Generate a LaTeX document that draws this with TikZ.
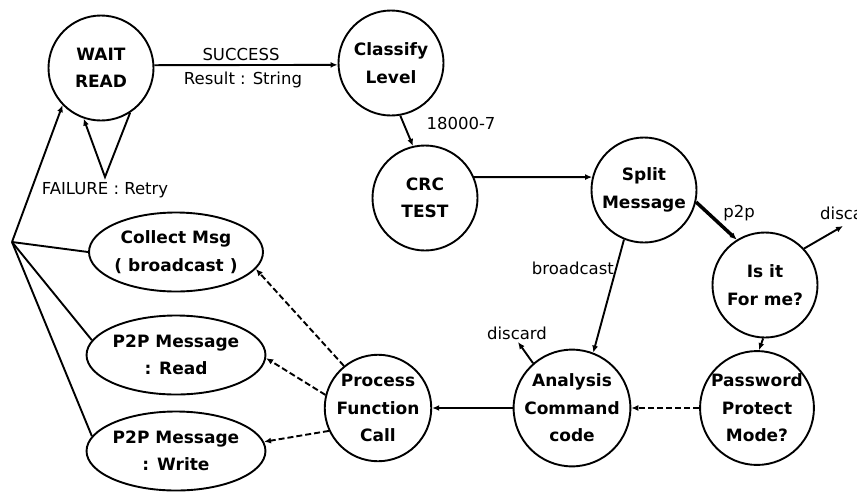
\documentclass[tikz,border=0pt]{standalone}
\usepackage{fontspec}
\setmainfont{DejaVu Sans}
\usetikzlibrary{shapes.geometric,arrows.meta}
\tikzset{
  state/.style={circle,draw,line width=1.9pt,minimum size=105pt,inner sep=0pt,align=center,
    font=\bfseries\fontsize{17}{27.5}\selectfont},
  oval/.style={ellipse,draw,line width=1.9pt,minimum width=156pt,minimum height=79pt,inner sep=0pt,align=center,
    font=\bfseries\fontsize{17}{27.5}\selectfont},
  lbl/.style={font=\fontsize{16.5}{18}\selectfont,inner sep=1pt},
  conn/.style={line width=1.9pt,-{Latex[length=7pt,width=6pt]}},
  dconn/.style={line width=1.9pt,dash pattern=on 6pt off 3pt,-{Latex[length=7pt,width=6pt]}},
  plain/.style={line width=1.9pt}
}
\begin{document}
\begin{tikzpicture}[x=1pt,y=-1pt]
\useasboundingbox (0,0) rectangle (857,491);
% states
\node[state] (wait) at (101,68) {WAIT\\READ};
\node[state] (class) at (391,63) {Classify\\Level};
\node[state] (crc) at (425,198) {CRC\\TEST};
\node[state] (split) at (644,190) {Split\\Message};
\node[state] (isit) at (765,285) {Is it\\For me?};
\node[state] (pw) at (757,408) {Password\\Protect\\Mode?};
\node[state] (ana) at (572,408) {Analysis\\Command\\code};
\node[state] (proc) at (378,408) {Process\\Function\\Call};
\node[oval] (coll) at (176,252) {Collect Msg\\( broadcast )};
\node[oval] (p2pr) at (176,355) {P2P Message\\: Read};
\node[oval] (p2pw) at (176,451) {P2P Message\\: Write};
% free ends
\coordinate (hub) at (12,242);
\coordinate (apex) at (105,177);
\coordinate (disc1) at (843,226);
\coordinate (disc2) at (518,342);
% connectors
\draw[conn] (wait.3) -- (class.182);
\node[lbl] (succ) at (241,54) {SUCCESS};
\node[lbl] (res) at (243,80) {Result : String};
\draw[conn] (wait.303) -- (apex) -- (wait.251);
\node[lbl] (fail) at (105,190) {FAILURE : Retry};
\draw[conn] (class.280) -- (crc.103);
\node[lbl] (k18) at (461,123) {18000-7};
\draw[conn] (crc.23) -- (split.166);
\draw[conn,line width=3.5pt] (split.-13) -- (isit.122);
\node[lbl] (p2p) at (739,213) {p2p};
\draw[conn] (isit.43) -- (disc1);
\node[lbl,anchor=west] (dl1) at (819,213) {discard};
\draw[conn] (split.248) -- (ana.69);
\node[lbl,anchor=east] (bc) at (615,268) {broadcast};
\draw[conn] (isit.268) -- (pw.88);
\draw[dconn] (pw.west) -- (ana.east);
\draw[conn] (ana.west) -- (proc.east);
\draw[conn] (ana.131) -- (disc2);
\node[lbl] (dl2) at (517,333) {discard};
\draw[dconn] (proc.129) -- (coll.-12);
\draw[dconn] (proc.166) -- (p2pr.-2);
\draw[dconn] (proc.205) -- (p2pw.6);
\draw[conn] (hub) -- (wait.224);
\draw[plain] (hub) -- (coll.180);
\draw[plain] (hub) -- (p2pr.170);
\draw[plain] (hub) -- (p2pw.170);
\end{tikzpicture}
\end{document}
